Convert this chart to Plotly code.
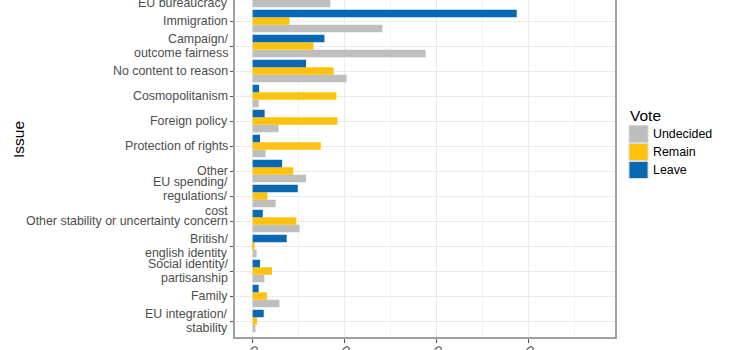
import plotly.graph_objects as go

# ---- data (top to bottom as in the chart) ----
issues = [
    "EU bureaucracy",
    "Immigration",
    "Campaign/<br>outcome fairness",
    "No content to reason",
    "Cosmopolitanism",
    "Foreign policy",
    "Protection of rights",
    "Other",
    "EU spending/<br>regulations/<br>cost",
    "Other stability or uncertainty concern",
    "British/<br>english identity",
    "Social identity/<br>partisanship",
    "Family",
    "EU integration/<br>stability",
]
leave = [0.375, 0.287, 0.078, 0.058, 0.007, 0.013, 0.008, 0.032, 0.049, 0.011, 0.037, 0.008, 0.0065, 0.012]
remain = [0.060, 0.040, 0.066, 0.088, 0.091, 0.092, 0.074, 0.044, 0.016, 0.0475, 0.002, 0.021, 0.0155, 0.0047]
undecided = [0.0845, 0.141, 0.188, 0.102, 0.0065, 0.028, 0.014, 0.058, 0.025, 0.051, 0.0043, 0.0127, 0.029, 0.003]
x_ticks = [0.0, 0.1, 0.2, 0.3]
x_tick_labels = ["0.0", "0.1", "0.2", "0.3"]
series_names = ["Undecided", "Remain", "Leave"]
series_colors = ["#BEBEBE", "#FFC20E", "#0868B4"]

FONT = "Liberation Sans, Arial, sans-serif"
W, H = 730, 350
L, R, T, B = 235, 115, 0, 13
PW, PH = W - L - R, H - T - B
LINE_H = 14.5

def px2paper_x(px):
    return (px - L) / PW

def px2paper_y(py):
    return (H - B - py) / PH

fig = go.Figure()
for name, vals, col in zip(series_names, [undecided, remain, leave], series_colors):
    fig.add_trace(go.Bar(
        y=issues, x=vals, name=name, orientation="h",
        marker=dict(color=col, line=dict(width=0)),
        showlegend=False,
    ))

y_lo, y_hi = -0.64, 12.84

fig.update_layout(
    width=W, height=H,
    margin=dict(l=L, r=R, t=T, b=B, pad=0, autoexpand=False),
    paper_bgcolor="white", plot_bgcolor="white",
    barmode="group", bargap=0.1, bargroupgap=0.0,
    font=dict(family=FONT, size=12.4, color="#4D4D4D"),
    xaxis=dict(
        range=[-0.0192, 0.3938], automargin=False,
        tickvals=x_ticks, ticktext=x_tick_labels, tickangle=45,
        ticklabelstandoff=-5,
        showgrid=True, gridcolor="#EBEBEB", gridwidth=1,
        minor=dict(dtick=0.05, tick0=0, showgrid=True, gridcolor="#F4F4F4", gridwidth=1),
        zeroline=False,
        showline=True, linecolor="#A0A0A0", linewidth=1.5, mirror=False,
        ticks="outside", ticklen=4, tickcolor="#555555", tickwidth=1,
        tickfont=dict(family=FONT, size=12.4, color="#4D4D4D"),
    ),
    yaxis=dict(
        type="category", categoryorder="array", categoryarray=issues[::-1],
        range=[y_lo, y_hi], automargin=False,
        showticklabels=False,
        showgrid=True, gridcolor="#EBEBEB", gridwidth=1,
        zeroline=False,
        showline=True, linecolor="#A0A0A0", linewidth=1.5, mirror=True,
        ticks="outside", ticklen=3, tickcolor="#555555", tickwidth=1,
    ),
)

annotations = []
# category labels, centred on their ticks (one text item per line)
n = len(issues)
for i, lab in enumerate(issues):
    idx = n - 1 - i
    lines = lab.split("<br>")
    m = len(lines)
    for k, line in enumerate(lines):
        yshift = -(k - (m - 1) / 2) * LINE_H
        if y_lo <= idx <= y_hi:
            ann = dict(xref="paper", yref="y", x=0, y=lab)
        else:
            # top category label, only its lower part shows at the top edge
            ann = dict(xref="paper", yref="paper", x=0,
                       y=(idx - y_lo) / (y_hi - y_lo))
            yshift -= 7
        ann.update(xshift=-5, yshift=yshift, xanchor="right", yanchor="middle",
                   text=line, showarrow=False,
                   font=dict(family=FONT, size=12.4, color="#4D4D4D"))
        annotations.append(ann)
# axis title
annotations.append(dict(
    xref="paper", yref="paper", x=px2paper_x(18), y=px2paper_y(140),
    xanchor="center", yanchor="middle", textangle=-90,
    text="Issue", showarrow=False,
    font=dict(family=FONT, size=15.5, color="black"),
))
# legend title
annotations.append(dict(
    xref="paper", yref="paper", x=px2paper_x(628), y=px2paper_y(115),
    xanchor="left", yanchor="middle", text="Vote", showarrow=False,
    font=dict(family=FONT, size=15.5, color="black"),
))
shapes = []
key_top = 125
key_h = 18
for i, (name, col) in enumerate(zip(series_names, series_colors)):
    y0 = key_top + i * key_h
    shapes.append(dict(
        type="rect", xref="paper", yref="paper",
        x0=px2paper_x(629), x1=px2paper_x(648),
        y0=px2paper_y(y0 + 0.5), y1=px2paper_y(y0 + key_h - 0.5),
        fillcolor=col, line=dict(color="#D9D9D9", width=1),
    ))
    annotations.append(dict(
        xref="paper", yref="paper", x=px2paper_x(651), y=px2paper_y(y0 + key_h / 2),
        xanchor="left", yanchor="middle", text=name, showarrow=False,
        font=dict(family=FONT, size=12.4, color="black"),
    ))

fig.update_layout(annotations=annotations, shapes=shapes)
fig.write_html("out.html")
